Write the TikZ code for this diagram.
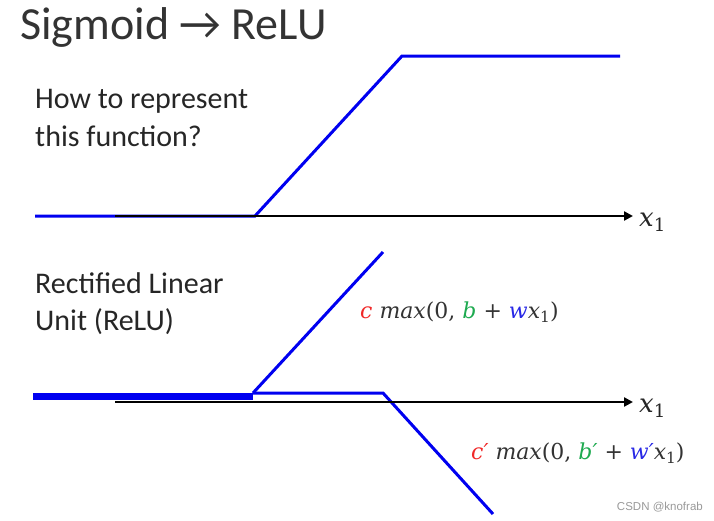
\documentclass[tikz,border=0pt]{standalone}
\usepackage{fontspec}
\setmainfont{Carlito}
\newfontfamily\wmfont{Liberation Sans}
\newfontfamily\mfont{DejaVu Serif}
\usetikzlibrary{arrows.meta}
\definecolor{fblue}{RGB}{0,0,240}
\definecolor{fred}{RGB}{240,40,40}
\definecolor{fgreen}{RGB}{30,170,80}
\definecolor{fblue2}{RGB}{40,40,230}
\newcommand{\sub}[1]{\raisebox{-0.35ex}{\fontsize{0.7em}{1em}\selectfont\upshape #1}}
\tikzset{
  curve/.style={draw=fblue, line width=3pt, line join=miter},
  axis/.style={draw=black, line width=2.6pt, -{Triangle[length=9pt,width=9pt]}},
  txt/.style={anchor=west, inner sep=0pt, font=\fontsize{30}{36}\selectfont, text=black!85},
  frm/.style={anchor=west, inner sep=0pt, font=\mfont\fontsize{22}{24}\selectfont, text=black!80},
  xlab/.style={anchor=west, inner sep=0pt, font=\mfont\fontsize{26}{28}\selectfont, text=black!85},
}
\begin{document}
\begin{tikzpicture}[x=1pt,y=-1pt]
\useasboundingbox (0,0) rectangle (714,520);
\node[anchor=west, inner sep=0pt, font=\fontsize{46}{52}\selectfont, text=black!80] (title) at (20,27) {Sigmoid → ReLU};
\node[txt] (q1) at (35,101) {How to represent};
\node[txt] (q2) at (35,136) {this function?};
\node[txt] (r1) at (35,283) {Rectified Linear};
\node[txt] (r2) at (35,322) {Unit (ReLU)};
% top
\coordinate (t0) at (35,216);
\coordinate (t1) at (255,216);
\coordinate (t2) at (402,56);
\coordinate (t3) at (620,56);
\draw[curve] (t0) -- (t1) -- (t2) -- (t3);
\coordinate (a0) at (115,216);
\coordinate (a1) at (633,216);
\draw[axis] (a0) -- (a1);
\node[xlab] (x1a) at (639,222) {\itshape x\sub{1}};
% bottom
\coordinate (b0) at (33,396);
\coordinate (b1) at (253,396);
\draw[fblue, line width=7pt] (b0) -- (b1);
\coordinate (c0) at (253,393);
\coordinate (c1) at (383,252);
\draw[curve] (c0) -- (c1);
\coordinate (d1) at (383,393);
\coordinate (d2) at (493,514);
\draw[curve] (c0) -- (d1) -- (d2);
\coordinate (e0) at (115,402);
\coordinate (e1) at (633,402);
\draw[axis] (e0) -- (e1);
\node[xlab] (x1b) at (639,408) {\itshape x\sub{1}};
\node[frm] (f1) at (360,312) {{\itshape\color{fred}c} {\itshape max}(0, {\itshape\color{fgreen}b} + {\itshape\color{fblue2}w}{\itshape x}\sub{1})};
\node[frm] (f2) at (471,453) {{\itshape\color{fred}c′} {\itshape max}(0, {\itshape\color{fgreen}b′} + {\itshape\color{fblue2}w′}{\itshape x}\sub{1})};
\node[anchor=east, inner sep=0pt, font=\wmfont\fontsize{11.5}{13}\selectfont, text=black!40] (wm) at (703,507) {CSDN @knofrab};
\end{tikzpicture}
\end{document}
